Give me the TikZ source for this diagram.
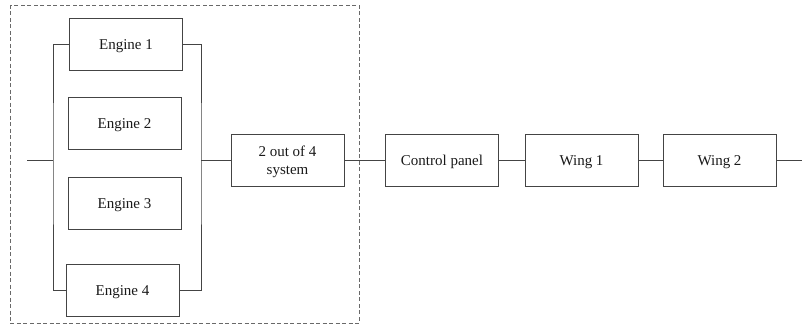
\documentclass[tikz,border=0pt]{standalone}
\usepackage{fontspec}
\setmainfont{Liberation Serif}
\definecolor{ln}{HTML}{444444}
\begin{document}
\begin{tikzpicture}[x=1pt,y=-1pt,
  blk/.style={draw=ln,line width=0.9pt,minimum width=113pt,minimum height=52pt,inner sep=0pt,align=center,font=\fontsize{15}{17.5}\selectfont,text=black!90,text height=12pt,text depth=2pt},
  blk2/.style={blk,text height=31pt,text depth=3pt},
  wire/.style={draw=ln,line width=0.9pt},
  grp/.style={draw=ln!80,line width=0.8pt,dash pattern=on 4pt off 2.5pt}]
\useasboundingbox (0,0) rectangle (810,329);
\node[blk] (e1) at (126,44) {Engine 1};
\node[blk] (e2) at (124.5,123.5) {Engine 2};
\node[blk] (e3) at (124.5,203.5) {Engine 3};
\node[blk] (e4) at (122.5,290.5) {Engine 4};
\node[blk2] (sys) at (287.5,160) {2 out of 4\\system};
\node[blk] (cp) at (442,160) {Control panel};
\node[blk] (w1) at (581.5,160) {Wing 1};
\node[blk] (w2) at (719.5,160) {Wing 2};
\coordinate (in) at (27,160);
\coordinate (L) at (53,160);
\coordinate (R) at (201,160);
\coordinate (out) at (802,160);
\draw[grp] (10,5) rectangle (359,323);
\draw[wire] (in) -- (L);
\draw[wire] (e1.west) -| (L) |- (e4.west);
\draw[wire] (e1.east) -| (R) |- (e4.east);
\draw[wire] (R) -- (sys.west);
\draw[wire] (sys.east) -- (cp.west);
\draw[wire] (cp.east) -- (w1.west);
\draw[wire] (w1.east) -- (w2.west);
\draw[wire] (w2.east) -- (out);
\end{tikzpicture}
\end{document}
